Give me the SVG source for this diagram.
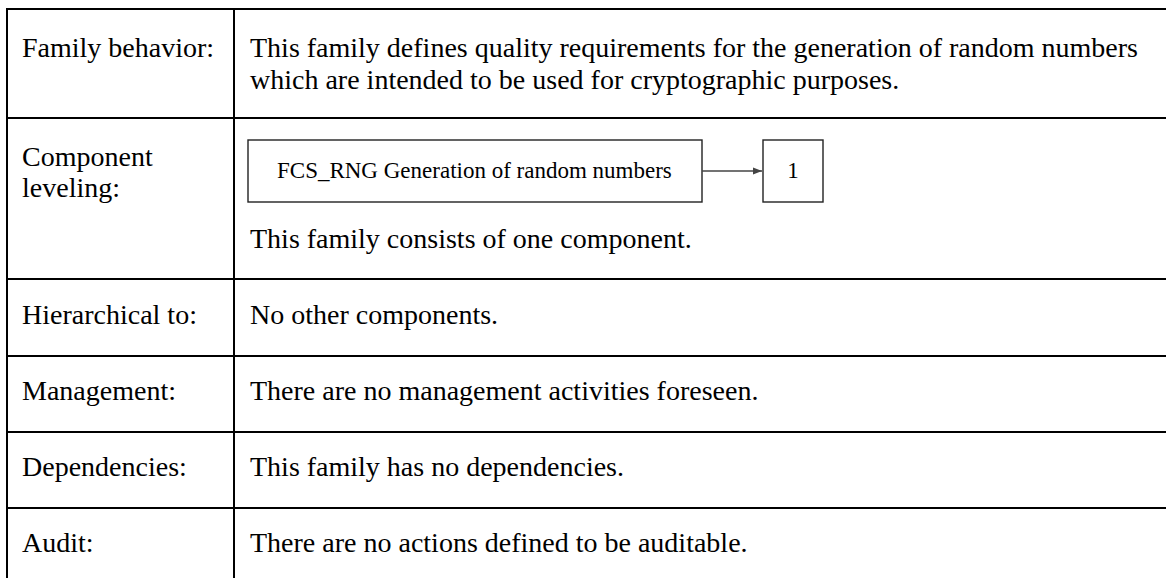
<svg xmlns="http://www.w3.org/2000/svg" width="1166" height="578" viewBox="0 0 1166 578">
<defs>
<style>
.grid{stroke:#000;stroke-width:2;fill:none}
.t{font-family:"Liberation Serif","Times New Roman",serif;font-size:28px;fill:#000}
.bt{font-family:"Liberation Serif","Times New Roman",serif;font-size:23px;fill:#000}
.box{fill:#fff;stroke:#222;stroke-width:1.4}
.conn{stroke:#444;stroke-width:1.6;fill:none}
</style>
<marker id="arr" markerWidth="10" markerHeight="10" refX="9" refY="5" orient="auto" markerUnits="userSpaceOnUse">
<path d="M0,1.5 L9,5 L0,8.5 Z" fill="#444"/>
</marker>
</defs>
<rect width="1166" height="578" fill="#fff"/>
<g id="table">
<line class="grid" x1="7" y1="9" x2="1166" y2="9"/>
<line class="grid" x1="7" y1="8" x2="7" y2="578"/>
<line class="grid" x1="234" y1="9" x2="234" y2="578"/>
<line class="grid" x1="7" y1="118" x2="1166" y2="118"/>
<line class="grid" x1="7" y1="279" x2="1166" y2="279"/>
<line class="grid" x1="7" y1="356" x2="1166" y2="356"/>
<line class="grid" x1="7" y1="432" x2="1166" y2="432"/>
<line class="grid" x1="7" y1="508" x2="1166" y2="508"/>
</g>
<g id="labels">
<text class="t" x="22" y="57">Family behavior:</text>
<text class="t" x="22" y="166">Component</text>
<text class="t" x="22" y="197">leveling:</text>
<text class="t" x="22" y="324">Hierarchical to:</text>
<text class="t" x="22" y="400">Management:</text>
<text class="t" x="22" y="476">Dependencies:</text>
<text class="t" x="22" y="552">Audit:</text>
</g>
<g id="values">
<text class="t" x="250" y="57">This family defines quality requirements for the generation of random numbers</text>
<text class="t" x="250" y="89">which are intended to be used for cryptographic purposes.</text>
<text class="t" x="250" y="248">This family consists of one component.</text>
<text class="t" x="250" y="324">No other components.</text>
<text class="t" x="250" y="400">There are no management activities foreseen.</text>
<text class="t" x="250" y="476">This family has no dependencies.</text>
<text class="t" x="250" y="552">There are no actions defined to be auditable.</text>
</g>
<g id="node-fcs-rng">
<rect class="box" x="248" y="140" width="454" height="62"/>
<text class="bt" x="277" y="178">FCS_RNG Generation of random numbers</text>
</g>
<g id="node-1">
<rect class="box" x="763" y="140" width="60" height="62"/>
<text class="bt" x="793" y="178" text-anchor="middle">1</text>
</g>
<g id="connectors">
<line class="conn" x1="702" y1="171" x2="762" y2="171" marker-end="url(#arr)"/>
</g>
</svg>
